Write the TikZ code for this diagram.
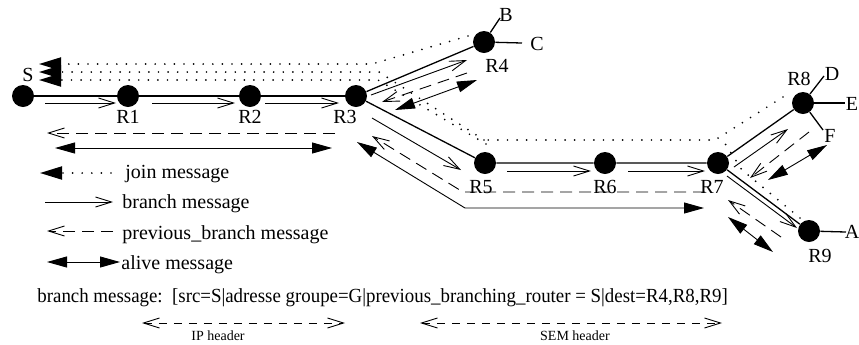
\documentclass[tikz,border=0pt]{standalone}
\usepackage{fontspec}
\usepackage{graphicx}
\setmainfont{Liberation Serif}
\usetikzlibrary{arrows.meta}
\begin{document}
\begin{tikzpicture}[x=0.5pt,y=-0.5pt,
  router/.style={circle,fill=black,inner sep=0pt,minimum size=11pt},
  lbl/.style={inner sep=0pt,font=\fontsize{10}{12}\selectfont},
  legtxt/.style={inner sep=0pt,anchor=base west,font=\fontsize{10}{12}\selectfont},
  edge/.style={line width=0.65pt},
  branchmsg/.style={line width=0.45pt,-{Straight Barb[length=8pt,width=5pt]}},
  prevmsg/.style={line width=0.45pt,dash pattern=on 6pt off 3.5pt,-{Straight Barb[length=8pt,width=5pt]}},
  alivemsg/.style={line width=0.45pt,{Triangle[length=10pt,width=5.5pt]}-{Triangle[length=10pt,width=5.5pt]}},
  joinmsg/.style={line width=0.95pt,line cap=round,dash pattern=on 0pt off 4.8pt,-{Triangle[length=11pt,width=6.5pt,line cap=butt]}},
  joinline/.style={line width=0.95pt,line cap=round,dash pattern=on 0pt off 4.8pt},
  hdrarrow/.style={line width=0.45pt,dash pattern=on 4pt off 3.5pt,{Straight Barb[length=8pt,width=5pt]}-{Straight Barb[length=8pt,width=5pt]}},
]
\useasboundingbox (0,0) rectangle (859,344);

% routers
\node[router] (S)  at (23,96) {};
\node[router] (R1) at (128,96) {};
\node[router] (R2) at (250,96) {};
\node[router] (R3) at (356,96) {};
\node[router] (R4) at (484,42) {};
\node[router] (R5) at (485,163) {};
\node[router] (R6) at (605,163) {};
\node[router] (R7) at (718,163) {};
\node[router] (R8) at (803,103) {};
\node[router] (R9) at (809,231) {};

% hosts (free ends)
\coordinate (hB) at (500,18);
\coordinate (hC) at (522,43);
\coordinate (hD) at (824,76);
\coordinate (hE) at (845,103);
\coordinate (hF) at (823,130);
\coordinate (hA) at (846,232);

% labels
\node[lbl] (lS)  at (28,75) {S};
\node[lbl] (lR1) at (128,117) {R1};
\node[lbl] (lR2) at (250,117) {R2};
\node[lbl] (lR3) at (345,117) {R3};
\node[lbl] (lR4) at (497,66) {R4};
\node[lbl] (lR5) at (481,187) {R5};
\node[lbl] (lR6) at (605,187) {R6};
\node[lbl] (lR7) at (712,187) {R7};
\node[lbl] (lR8) at (799,79) {R8};
\node[lbl] (lR9) at (820,256) {R9};
\node[lbl] (lB) at (506,15) {B};
\node[lbl] (lC) at (537,44) {C};
\node[lbl] (lD) at (832,74) {D};
\node[lbl] (lE) at (852,104) {E};
\node[lbl] (lF) at (830,136) {F};
\node[lbl] (lA) at (852,232) {A};

% links
\draw[edge] (S) -- (R1) -- (R2) -- (R3);
\draw[edge] (R3) -- (R4);
\draw[edge] (R3) -- (R5) -- (R6) -- (R7);
\draw[edge] (R7) -- (R8);
\draw[edge] (R7) -- (R9);
\draw[edge] (R4) -- (hB);
\draw[edge] (R4) -- (hC);
\draw[edge] (R8) -- (hD);
\draw[edge] (R8) -- (hE);
\draw[edge] (R8) -- (hF);
\draw[edge] (R9) -- (hA);

% join messages (dotted)
\draw[joinmsg] (468,36) -- (372,64) -- (39,64);
\draw[joinline] (783,97) -- (715,140) -- (484,140);
\draw[joinline] (800,218) -- (742,170) -- (724,142);
\draw[joinmsg] (484,140) -- (379,72) -- (39,72);
\draw[joinmsg] (486,144) -- (378,80) -- (39,80);

% branch messages
\draw[branchmsg] (45,103) -- (116,103);
\draw[branchmsg] (152,103) -- (235,103);
\draw[branchmsg] (265,103) -- (339,103);
\draw[branchmsg] (371,95) -- (467,60);
\draw[branchmsg] (372,118) -- (461,170);
\draw[branchmsg] (507,171) -- (591,171);
\draw[branchmsg] (628,171) -- (705,171);
\draw[branchmsg] (734,167) -- (788,129);
\draw[branchmsg] (727,176) -- (797,228);

% previous_branch messages
\draw[prevmsg] (335,133) -- (47,133);
\draw[prevmsg] (467,73) -- (382,102);
\draw[prevmsg] (705,192) -- (463,192) -- (372,136);
\draw[prevmsg] (809,132) -- (750,178);
\draw[prevmsg] (781,237) -- (728,200);

% alive messages
\draw[alivemsg] (55,148) -- (332,148);
\draw[alivemsg] (395,110) -- (477,80);
\draw[alivemsg] (357,142) -- (465,208) -- (704,208);
\draw[alivemsg] (768,180) -- (827,145);
\draw[alivemsg] (728,217) -- (773,252);

% legend
\draw[joinmsg] (111,173) -- (40,173);
\node[legtxt] (tj) at (125,178) {join message};
\draw[branchmsg] (45,202) -- (113,202);
\node[legtxt] (tb) at (122,208) {branch message};
\draw[prevmsg] (113,231) -- (47,231);
\node[legtxt] (tp) at (122,239) {previous\_branch message};
\draw[alivemsg] (47,262) -- (120,262);
\node[legtxt] (ta) at (121,269) {alive message};

% header line
\node[legtxt] (hdr) at (37,302) {\scalebox{0.944}[1]{branch message:\ \ [src=S|adresse groupe=G|previous\_branching\_router = S|dest=R4,R8,R9]}};
\draw[hdrarrow] (142,323) -- (345,323);
\node[inner sep=0pt,font=\fontsize{7}{8}\selectfont] (ip) at (218,336) {IP header};
\draw[hdrarrow] (420,323) -- (722,323);
\node[inner sep=0pt,font=\fontsize{7}{8}\selectfont] (sem) at (575,336) {SEM header};
\end{tikzpicture}
\end{document}
